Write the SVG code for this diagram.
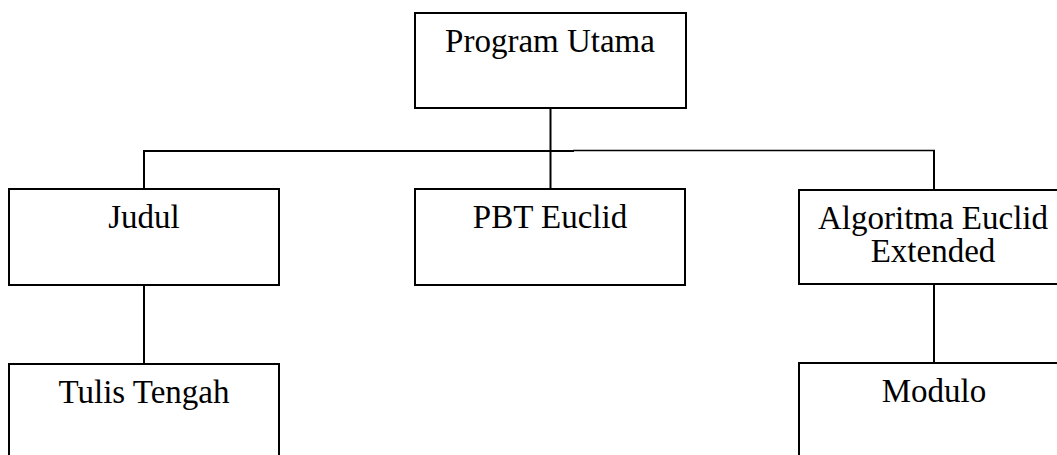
<svg xmlns="http://www.w3.org/2000/svg" width="1057" height="455" viewBox="0 0 1057 455">
<style>
.box{fill:#fff;stroke:#000;stroke-width:2}
.ln{stroke:#000;stroke-width:2;fill:none}
.t{font-family:"Liberation Serif","Times New Roman",serif;font-size:33px;fill:#000;text-anchor:middle}
</style>
<rect width="1057" height="455" fill="#fff"/>
<g id="connectors">
<line class="ln" x1="550.5" y1="108" x2="550.5" y2="189"/>
<line class="ln" x1="143" y1="151" x2="574" y2="151"/>
<line class="ln" x1="573" y1="150.5" x2="935" y2="150.5" style="stroke-width:1.6"/>
<line class="ln" x1="144" y1="150" x2="144" y2="189"/>
<line class="ln" x1="934" y1="150" x2="934" y2="190"/>
<line class="ln" x1="144" y1="285" x2="144" y2="364"/>
<line class="ln" x1="934" y1="284" x2="934" y2="363"/>
</g>
<g id="program-utama">
<rect class="box" x="415" y="13" width="271" height="95"/>
<text class="t" x="550" y="52">Program Utama</text>
</g>
<g id="judul">
<rect class="box" x="9" y="189" width="270" height="96"/>
<text class="t" x="144" y="228">Judul</text>
</g>
<g id="pbt-euclid">
<rect class="box" x="415" y="189" width="270" height="96"/>
<text class="t" x="550" y="228">PBT Euclid</text>
</g>
<g id="algoritma-euclid-extended">
<rect class="box" x="799" y="190" width="270" height="94"/>
<text class="t" x="933" y="229">Algoritma Euclid</text>
<text class="t" x="933" y="262">Extended</text>
</g>
<g id="tulis-tengah">
<rect class="box" x="9" y="364" width="270" height="120"/>
<text class="t" x="144" y="403">Tulis Tengah</text>
</g>
<g id="modulo">
<rect class="box" x="799" y="363" width="270" height="120"/>
<text class="t" x="934" y="402">Modulo</text>
</g>
</svg>
